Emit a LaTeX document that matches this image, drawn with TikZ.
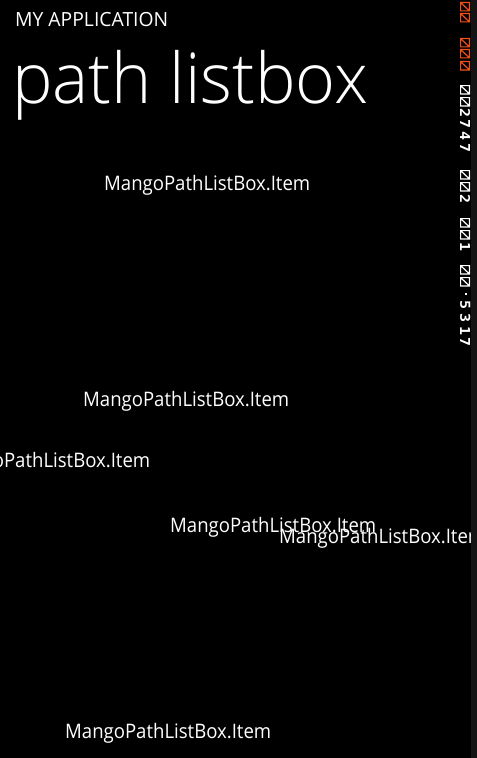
\documentclass[tikz,border=0pt]{standalone}
\usepackage{fontspec}
\usepackage{graphicx}
\setmainfont{Open Sans}
\newfontfamily\titlefont{Open Sans Light}
\newfontfamily\ctrfont{DejaVu Sans Mono Bold}
\definecolor{ctrorange}{RGB}{240,80,20}
\definecolor{stripgray}{RGB}{20,20,20}
\tikzset{
  itemtext/.style={anchor=base west, inner sep=0pt, text=white},
  counter/.style={rotate=-90, anchor=south west, inner sep=0pt},
  zerobox/.style={line width=1.2bp},
}
\newcommand{\itemlabel}{\resizebox{206bp}{\height}{\fontsize{20bp}{24bp}\selectfont MangoPathListBox.Item}}
\newcommand{\ctr}[1]{\resizebox{9bp}{10bp}{\ctrfont #1}}
\begin{document}
\begin{tikzpicture}[x=1bp,y=-1bp]
\useasboundingbox (0,0) rectangle (477,758);
\clip (0,0) rectangle (477,758);
\fill[black] (0,0) rectangle (477,758);
% header
\node[itemtext] (app) at (15,27) {\resizebox{153bp}{\height}{\fontsize{19.5bp}{24bp}\selectfont MY APPLICATION}};
\node[itemtext] (title) at (12,103) {\resizebox{356bp}{\height}{\fontsize{70bp}{80bp}\titlefont path listbox}};
% items
\node[itemtext] (i1) at (104,190) {\itemlabel};
\node[itemtext] (i2) at (83,406) {\itemlabel};
\node[itemtext] (i3) at (-56,467.5) {\itemlabel};
\node[itemtext] (i4) at (170,532) {\itemlabel};
\node[itemtext] (i5) at (279,543) {\itemlabel};
\node[itemtext] (i6) at (65,738) {\itemlabel};
% right strip
\fill[stripgray] (471,0) rectangle (477,758);
% frame rate counters: zeros as slashed boxes
\foreach \y in {2,13,38,49,61}
  \draw[zerobox, ctrorange] (460.6,\y+0.6) rectangle (469.4,\y+8.9) (460.6,\y+0.6) -- (469.4,\y+8.9);
\foreach \y in {85,97,170,182,218,230,265,277}
  \draw[zerobox, white] (460.6,\y+0.6) rectangle (469.4,\y+8.9) (460.6,\y+0.6) -- (469.4,\y+8.9);
% other counter digits
\foreach \y/\d [count=\k] in {108/2,119/7,131/4,143/7,194/2,242/1,300/5,313/3,326/1,337/7}
  \node[counter, text=white] (d\k) at (460,\y) {\ctr{\d}};
% decimal point
\fill[white] (464.5,292.5) rectangle (466.8,294.8);
\end{tikzpicture}
\end{document}
